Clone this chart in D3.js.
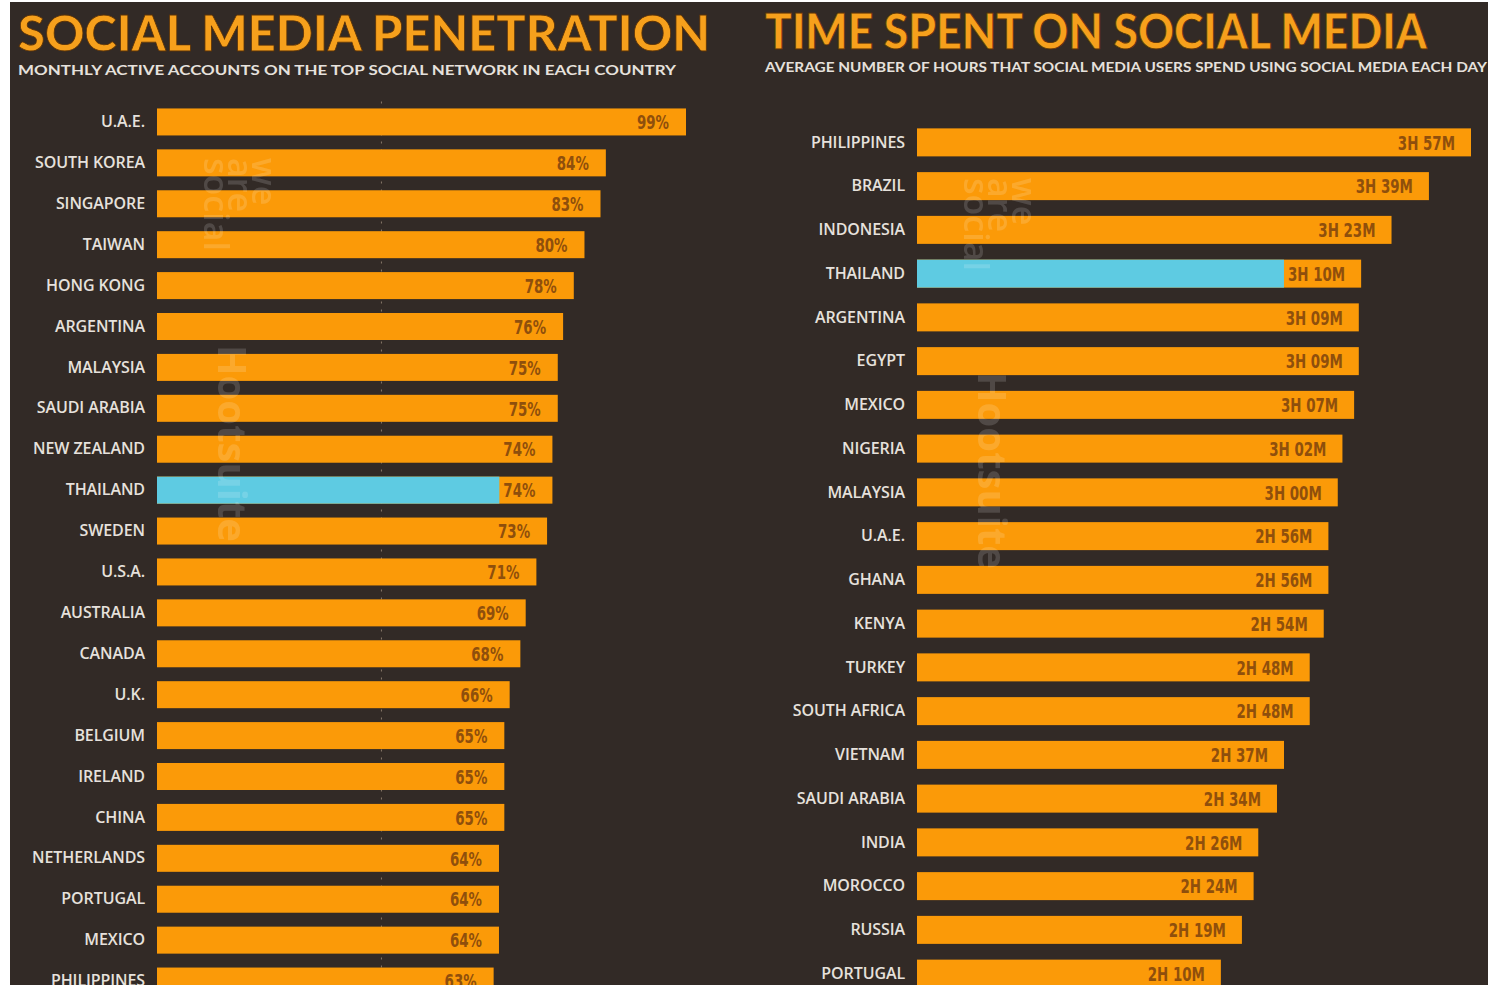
<!DOCTYPE html>
<html>
<head>
<meta charset="utf-8">
<script src="https://cdn.jsdelivr.net/npm/d3@7"></script>
<style>
  body { margin: 0; background: #ffffff; }
  svg { display: block; }
</style>
</head>
<body>
<svg id="drawing_region"></svg>
<script>
// left chart: share of population active on the top social network
const penCountries = ['U.A.E.', 'SOUTH KOREA', 'SINGAPORE', 'TAIWAN', 'HONG KONG', 'ARGENTINA',
    'MALAYSIA', 'SAUDI ARABIA', 'NEW ZEALAND', 'THAILAND', 'SWEDEN', 'U.S.A.', 'AUSTRALIA',
    'CANADA', 'U.K.', 'BELGIUM', 'IRELAND', 'CHINA', 'NETHERLANDS', 'PORTUGAL', 'MEXICO', 'PHILIPPINES'];
const penValues = [99, 84, 83, 80, 78, 76, 75, 75, 74, 74, 73, 71, 69, 68, 66, 65, 65, 65, 64, 64, 64, 63];
const penGrid = [42];

// right chart: minutes per day on social media
const timeCountries = ['PHILIPPINES', 'BRAZIL', 'INDONESIA', 'THAILAND', 'ARGENTINA', 'EGYPT', 'MEXICO',
    'NIGERIA', 'MALAYSIA', 'U.A.E.', 'GHANA', 'KENYA', 'TURKEY', 'SOUTH AFRICA', 'VIETNAM',
    'SAUDI ARABIA', 'INDIA', 'MOROCCO', 'RUSSIA', 'PORTUGAL'];
const timeMinutes = [237, 219, 203, 190, 189, 189, 187, 182, 180, 176, 176, 174, 168, 168, 157, 154, 146, 144, 139, 130];

const highlight = 'THAILAND';

const W = 1488, H = 985;
const BG = '#322a26', ORANGE = '#fb9a08', CYAN = '#5ecbe2', TITLE = '#f6a01c', LABEL = '#e6e1dc', VALUE = '#8f4f0c';
const NARROW = 0.67;   // squeeze for the condensed value labels

const svg = d3.select('#drawing_region').attr('width', W).attr('height', H);
svg.append('rect').attr('x', 10).attr('y', 2).attr('width', W - 10).attr('height', H - 2).attr('fill', BG);

function fmtTime(m) {
    return Math.floor(m / 60) + 'H ' + String(m % 60).padStart(2, '0') + 'M';
}

function drawPanel(cfg) {
    const g = svg.append('g');
    const data = cfg.names.map((n, i) => ({ name: n, value: cfg.values[i] }));

    const x = d3.scaleLinear().domain(cfg.domain).range(cfg.xrange);
    const y = d3.scaleBand().domain(cfg.names).range(cfg.yrange)
        .paddingInner(cfg.pad).paddingOuter(cfg.pad / 2);

    // title + subtitle
    g.append('text')
        .attr('x', cfg.titleX).attr('y', cfg.titleY)
        .attr('textLength', cfg.titleLen).attr('lengthAdjust', 'spacingAndGlyphs')
        .style('font-family', 'Lato, sans-serif').style('font-weight', 900)
        .style('font-size', '49px').attr('fill', TITLE)
        .attr('stroke', '#5a3208').attr('stroke-width', 0.8)
        .text(cfg.title);
    g.append('text')
        .attr('x', cfg.titleX).attr('y', cfg.subY)
        .attr('textLength', cfg.subLen).attr('lengthAdjust', 'spacingAndGlyphs')
        .style('font-family', 'Lato, sans-serif').style('font-weight', 700)
        .style('font-size', '13px').attr('fill', LABEL)
        .text(cfg.subtitle);

    // faint dotted gridlines
    g.selectAll('.grid').data(cfg.grid || []).enter().append('line')
        .attr('x1', d => x(d)).attr('x2', d => x(d))
        .attr('y1', cfg.yrange[0]).attr('y2', H)
        .attr('stroke', '#8a7a6a').attr('stroke-width', 1).attr('stroke-dasharray', '2,6');

    // axis for category labels
    const yaxis = d3.axisLeft(y).tickSize(0).tickPadding(12);
    const ag = g.append('g').attr('transform', `translate(${x(0)},0)`).call(yaxis);
    ag.select('.domain').remove();
    ag.selectAll('text')
        .style('font-family', '"Open Sans", sans-serif').style('font-weight', 600)
        .style('font-size', '16px').style('letter-spacing', '-0.1px')
        .attr('fill', LABEL);

    const rows = g.selectAll('.row').data(data).enter().append('g').attr('class', 'row');

    rows.append('rect')
        .attr('x', x(0)).attr('y', d => y(d.name))
        .attr('width', d => x(d.value) - x(0)).attr('height', y.bandwidth())
        .attr('fill', ORANGE);

    const labels = rows.append('text')
        .attr('transform', d => `translate(${x(d.value) - cfg.labelInset},${y(d.name) + y.bandwidth() / 2}) scale(${NARROW},1)`)
        .attr('dy', '0.36em').attr('text-anchor', 'end')
        .style('font-family', '"DejaVu Sans", sans-serif')
        .style('font-weight', 700).style('font-size', '20px')
        .attr('fill', VALUE)
        .text(d => cfg.fmt(d.value));

    // highlighted bar runs up to the value label
    labels.filter(d => d.name === highlight).each(function (d) {
        const w = this.getComputedTextLength() * NARROW;
        d3.select(this.parentNode).insert('rect', 'text')
            .attr('x', x(0)).attr('y', y(d.name))
            .attr('width', x(d.value) - cfg.labelInset - w - 4 - x(0))
            .attr('height', y.bandwidth())
            .attr('fill', CYAN);
    });

    // watermarks
    const wm = g.append('g').attr('opacity', 0.15).attr('fill', '#ffffff')
        .style('font-family', '"Open Sans", sans-serif');
    cfg.marks.forEach(m => {
        wm.append('text')
            .attr('transform', `translate(${m.x},${m.y}) rotate(90)`)
            .style('font-size', m.size + 'px').style('font-weight', m.weight || 600)
            .text(m.text);
    });
}

drawPanel({
    names: penCountries, values: penValues, grid: penGrid,
    domain: [0, 99], xrange: [157, 686],
    yrange: [101.5, 1001.5], pad: 0.34,
    labelInset: 17, fmt: v => v + '%',
    title: 'SOCIAL MEDIA PENETRATION', titleX: 18, titleY: 51, titleLen: 692,
    subtitle: 'MONTHLY ACTIVE ACCOUNTS ON THE TOP SOCIAL NETWORK IN EACH COUNTRY', subY: 75, subLen: 658,
    marks: [
        { text: 'we', x: 252, y: 158, size: 34 },
        { text: 'are', x: 228, y: 158, size: 34 },
        { text: 'social', x: 204, y: 158, size: 34 },
        { text: 'Hootsuite', x: 218, y: 345, size: 40, weight: 700 }
    ]
});

drawPanel({
    names: timeCountries, values: timeMinutes,
    domain: [0, 237], xrange: [917, 1471],
    yrange: [120.5, 995.5], pad: 0.36,
    labelInset: 16, fmt: fmtTime,
    title: 'TIME SPENT ON SOCIAL MEDIA', titleX: 765, titleY: 49, titleLen: 662,
    subtitle: 'AVERAGE NUMBER OF HOURS THAT SOCIAL MEDIA USERS SPEND USING SOCIAL MEDIA EACH DAY', subY: 72, subLen: 722,
    marks: [
        { text: 'we', x: 1012, y: 178, size: 34 },
        { text: 'are', x: 988, y: 178, size: 34 },
        { text: 'social', x: 964, y: 178, size: 34 },
        { text: 'Hootsuite', x: 978, y: 372, size: 40, weight: 700 }
    ]
});
</script>
</body>
</html>
